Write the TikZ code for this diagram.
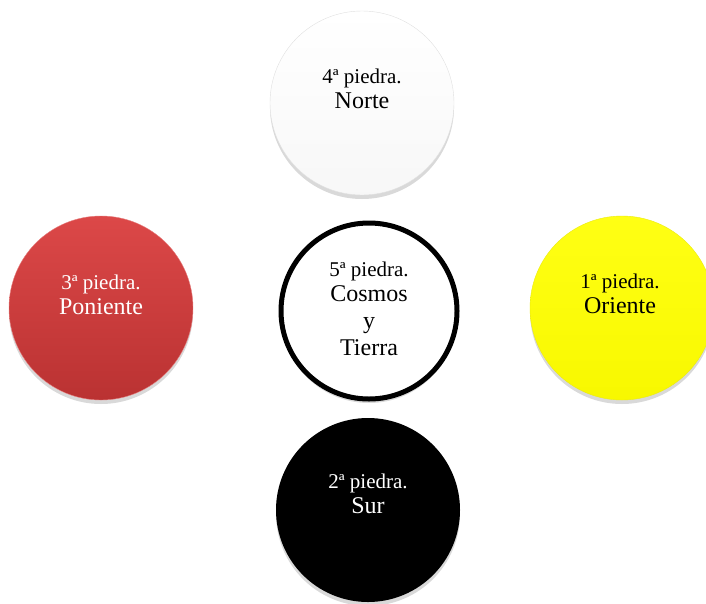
\documentclass[tikz,border=0pt]{standalone}
\usepackage{fontspec}
\setmainfont{Liberation Serif}
\usetikzlibrary{shadows}
\definecolor{rojo}{RGB}{220,72,72}
\definecolor{rojoosc}{RGB}{186,50,50}
\definecolor{amarillo}{RGB}{255,255,20}
\definecolor{amarilloosc}{RGB}{248,248,0}

\begin{document}
\begin{tikzpicture}[x=1pt, y=-1pt,
  piedra/.style={circle, minimum size=184pt, inner sep=0pt,
    drop shadow={shadow xshift=0pt, shadow yshift=-4pt, opacity=0.3}},
  rotulo/.style={align=center, font=\fontsize{21}{27}\selectfont}]
\useasboundingbox (0,0) rectangle (706,603);
\clip (0,0) rectangle (706,603);
% las cinco piedras
\node [piedra, top color=white, bottom color=black!3, draw=black!12] (norte) at (362,103) {};
\node [piedra, top color=rojo, bottom color=rojoosc, draw=rojo!70!white] (poniente) at (101,308) {};
\node [piedra, top color=amarillo, bottom color=amarilloosc, draw=amarillo!92!black] (oriente) at (622,308) {};
\node [piedra, fill=black] (sur) at (368,510) {};
\node [piedra, fill=white, draw=black, line width=5pt, minimum size=176pt] (centro) at (369,311) {};
% rotulos
\node [rotulo] (nortetxt) at (362,89) {4ª piedra.\\[-2pt]{\fontsize{24}{27}\selectfont Norte}};
\node [rotulo, text=white] (ponientetxt) at (101,295) {3ª piedra.\\[-2pt]{\fontsize{24}{27}\selectfont Poniente}};
\node [rotulo] (orientetxt) at (620,294) {1ª piedra.\\[-2pt]{\fontsize{24}{27}\selectfont Oriente}};
\node [rotulo, text=white] (surtxt) at (368,494) {2ª piedra.\\[-2pt]{\fontsize{24}{27}\selectfont Sur}};
\node [rotulo] (centrotxt) at (369,309) {5ª piedra.\\[-2pt]{\fontsize{24}{27}\selectfont Cosmos}\\{\fontsize{24}{27}\selectfont y}\\{\fontsize{24}{27}\selectfont Tierra}};
\end{tikzpicture}
\end{document}
